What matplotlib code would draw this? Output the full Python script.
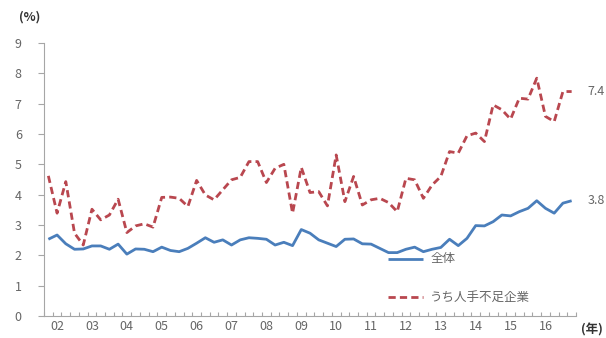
import numpy as np
import matplotlib.pyplot as plt

plt.rcParams['font.family'] = ['Noto Sans CJK JP', 'DejaVu Sans']

# 四半期データ (2001年10-12月期 ～ 2016年10-12月期)
all_firms = [2.53, 2.67, 2.38, 2.20, 2.21, 2.31, 2.31, 2.20, 2.37, 2.04, 2.21, 2.20, 2.12, 2.27, 2.16,
             2.12, 2.23, 2.40, 2.58, 2.43, 2.51, 2.34, 2.51, 2.58, 2.56, 2.53, 2.34, 2.43, 2.32, 2.85,
             2.73, 2.51, 2.40, 2.29, 2.53, 2.54, 2.38, 2.37, 2.23, 2.09, 2.09, 2.20, 2.27, 2.12, 2.20,
             2.26, 2.53, 2.32, 2.56, 2.98, 2.97, 3.11, 3.33, 3.30, 3.44, 3.55, 3.80, 3.55, 3.39, 3.72, 3.80]
shortage_firms = [4.62, 3.39, 4.43, 2.73, 2.34, 3.52, 3.17, 3.33, 3.85, 2.75, 2.97, 3.04, 2.93, 3.91, 3.92,
                  3.88, 3.61, 4.47, 3.99, 3.83, 4.16, 4.49, 4.57, 5.09, 5.09, 4.40, 4.87, 5.00, 3.39, 4.90,
                  4.07, 4.10, 3.63, 5.31, 3.77, 4.60, 3.66, 3.83, 3.88, 3.74, 3.44, 4.54, 4.49, 3.88, 4.32,
                  4.60, 5.42, 5.37, 5.94, 6.03, 5.75, 6.96, 6.80, 6.49, 7.18, 7.15, 7.84, 6.58, 6.41, 7.40, 7.40]
year_labels = ['02', '03', '04', '05', '06', '07', '08', '09', '10', '11', '12', '13', '14', '15', '16']
yticks = list(range(0, 10))

blue = '#4a7ebb'
red = '#b9474f'
gray = '#666666'
dash = (2.6, 1.5)

x = np.arange(len(all_firms))

fig = plt.figure(figsize=(6.06, 3.38), dpi=100)
ax = fig.add_axes([44 / 606, 22 / 338, 532 / 606, 273 / 338])

ax.plot(x, all_firms, color=blue, lw=2.0, solid_capstyle='butt')
ax.plot(x, shortage_firms, color=red, lw=2.0, dashes=dash)

ax.set_xlim(-0.5, len(x) - 0.5)
ax.set_ylim(0, 9)
ax.set_yticks(yticks)
ax.set_yticklabels([str(v) for v in yticks])

ax.set_xticks(np.arange(1, len(x), 4))
ax.set_xticklabels(year_labels)
ax.set_xticks(np.arange(-0.5, len(x), 1), minor=True)

for s in ['top', 'right']:
    ax.spines[s].set_visible(False)
for s in ['left', 'bottom']:
    ax.spines[s].set_color('#a6a6a6')
    ax.spines[s].set_linewidth(0.8)

ax.tick_params(axis='y', direction='out', length=4, width=0.8, color='#a6a6a6',
               labelsize=9, labelcolor=gray, pad=12)
ax.tick_params(axis='x', which='major', length=0, labelsize=9, labelcolor=gray, pad=3)
ax.tick_params(axis='x', which='minor', direction='in', length=3, width=0.8, color='#a6a6a6')

# 末端の値
ax.text(len(x) + 0.8, shortage_firms[-1], f'{shortage_firms[-1]:.1f}', color=gray,
        fontsize=9, va='center', ha='left', clip_on=False)
ax.text(len(x) + 0.8, all_firms[-1], f'{all_firms[-1]:.1f}', color=gray,
        fontsize=9, va='center', ha='left', clip_on=False)

# 凡例
ax.plot([39.0, 43.0], [1.88, 1.88], color=blue, lw=2.0, solid_capstyle='butt')
ax.text(43.8, 1.88, '全体', color=gray, fontsize=9, va='center', ha='left')
ax.plot([39.0, 43.0], [0.63, 0.63], color=red, lw=2.0, dashes=dash)
ax.text(43.8, 0.63, 'うち人手不足企業', color=gray, fontsize=9, va='center', ha='left')

fig.text(30 / 606, 1 - 17 / 338, '(%)', fontsize=9, fontweight='bold', color='#333333',
         ha='center', va='center')
fig.text(592 / 606, 1 - 330 / 338, '(年)', fontsize=9, fontweight='bold', color='#333333',
         ha='center', va='center')

fig.savefig('out.png', dpi=100)
